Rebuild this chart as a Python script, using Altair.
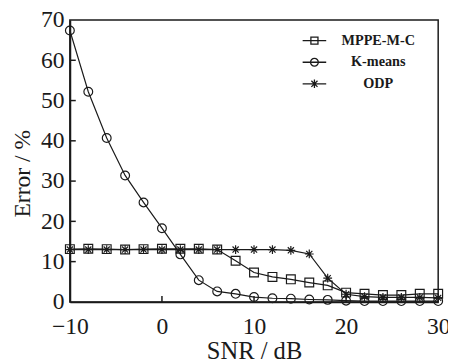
import altair as alt
import pandas as pd

snr = [-10, -8, -6, -4, -2, 0, 2, 4, 6, 8, 10, 12, 14, 16, 18, 20, 22, 24, 26, 28, 30]
mppe = [13.1, 13.2, 13.1, 13.0, 13.1, 13.2, 13.2, 13.2, 13.0, 10.2, 7.3, 6.2, 5.6, 4.8, 4.1, 2.3, 2.0, 1.7, 1.7, 2.0, 2.0]
kmeans = [67.4, 52.2, 40.7, 31.4, 24.7, 18.3, 11.8, 5.4, 2.6, 2.0, 1.2, 0.9, 0.8, 0.6, 0.5, 0.3, 0.2, 0.2, 0.2, 0.2, 0.2]
odp = [13.0, 13.0, 13.0, 13.0, 13.0, 13.0, 13.0, 13.0, 13.0, 13.0, 13.0, 13.0, 12.8, 11.9, 5.9, 1.9, 1.3, 1.1, 1.1, 1.1, 1.0]
names = ["MPPE-M-C", "K-means", "ODP"]
x_ticks = [-10, 0, 10, 20, 30]
y_ticks = [0, 10, 20, 30, 40, 50, 60, 70]

rows = []
for name, vals in zip(names, [mppe, kmeans, odp]):
    for s, v in zip(snr, vals):
        rows.append({"snr": s, "err": v, "series": name})
df = pd.DataFrame(rows)

INK = "#1a1a1a"
FONT = "'Liberation Serif', 'Times New Roman', 'DejaVu Serif', serif"
asterisk = "M-1,0L1,0M0,-1L0,1M-0.7,-0.7L0.7,0.7M-0.7,0.7L0.7,-0.7"
marker_shapes = ["square", "circle", asterisk]
legend_shapes = [
    "M-1,0L1,0M-0.3,-0.3L0.3,-0.3L0.3,0.3L-0.3,0.3Z",
    "M-1,0L1,0M0.33,0A0.33,0.33 0 1,1 -0.33,0A0.33,0.33 0 1,1 0.33,0Z",
    "M-1,0L1,0M0,-0.36L0,0.36M-0.26,-0.26L0.26,0.26M-0.26,0.26L0.26,-0.26",
]

xsc = alt.Scale(domain=[-10, 30], nice=False)
ysc = alt.Scale(domain=[0, 70], nice=False)
xax = alt.Axis(values=x_ticks, title="SNR / dB", ticks=False, grid=False, labelFlush=False,
               labelExpr="replace(datum.label, '-', '\u2212')")
yax = alt.Axis(values=y_ticks, title="Error / %", ticks=False, grid=False, labelFlush=False,
               titleY=156)

base = alt.Chart(df)
lines = base.mark_line(color=INK, strokeWidth=1.2).encode(
    x=alt.X("snr:Q", scale=xsc, axis=xax),
    y=alt.Y("err:Q", scale=ysc, axis=yax),
    detail="series:N",
)
points = base.mark_point(filled=False, color=INK, strokeWidth=1.2, size=80, opacity=1).encode(
    x=alt.X("snr:Q", scale=xsc),
    y=alt.Y("err:Q", scale=ysc),
    shape=alt.Shape("series:N", scale=alt.Scale(domain=names, range=marker_shapes), legend=None),
)

legend_layer = alt.Chart(alt.Data(values=[{"lseries": n} for n in names])).mark_point(
    filled=False, color=INK, strokeWidth=1.3
).encode(
    x=alt.X("lx:Q", scale=xsc),
    y=alt.Y("ly:Q", scale=ysc),
    shape=alt.Shape(
        "lseries:N",
        scale=alt.Scale(domain=names, range=legend_shapes),
        legend=alt.Legend(
            title=None, orient="none", legendX=236, legendY=8,
            symbolSize=576, symbolStrokeWidth=1.3, symbolStrokeColor=INK,
            labelFont=FONT, labelFontWeight="bold", labelFontSize=14.5, labelColor=INK,
            labelAlign="center", labelOffset=52, rowPadding=2, symbolOpacity=1,
        ),
    ),
)

yt = alt.Chart(pd.DataFrame({"t": [10, 20, 30, 40, 50, 60]})).mark_rule(color=INK, strokeWidth=1.5).encode(
    y=alt.Y("t:Q", scale=ysc), x=alt.value(0), x2=alt.value(6)
)
xt = alt.Chart(pd.DataFrame({"t": [0, 10, 20]})).mark_rule(color=INK, strokeWidth=1.5).encode(
    x=alt.X("t:Q", scale=xsc), y=alt.value(287), y2=alt.value(281)
)

chart = alt.layer(lines, points, legend_layer, yt, xt).resolve_scale(shape="independent").properties(
    width=375, height=287,
    autosize=alt.AutoSizeParams(type="none"),
    padding={"left": 63, "top": 9, "right": 10, "bottom": 60},
).configure_view(stroke=INK, strokeWidth=1.5).configure_axis(
    domainColor=INK, domainWidth=1.8, labelFont=FONT, labelFontSize=24, labelColor=INK,
    titleFont=FONT, titleFontWeight="normal", titleColor=INK,
).configure_axisX(labelPadding=13, titlePadding=1, titleFontSize=25).configure_axisY(
    labelPadding=6, titlePadding=6, titleFontSize=24)

chart.save("out.html", embed_options={"renderer": "svg", "actions": False})
